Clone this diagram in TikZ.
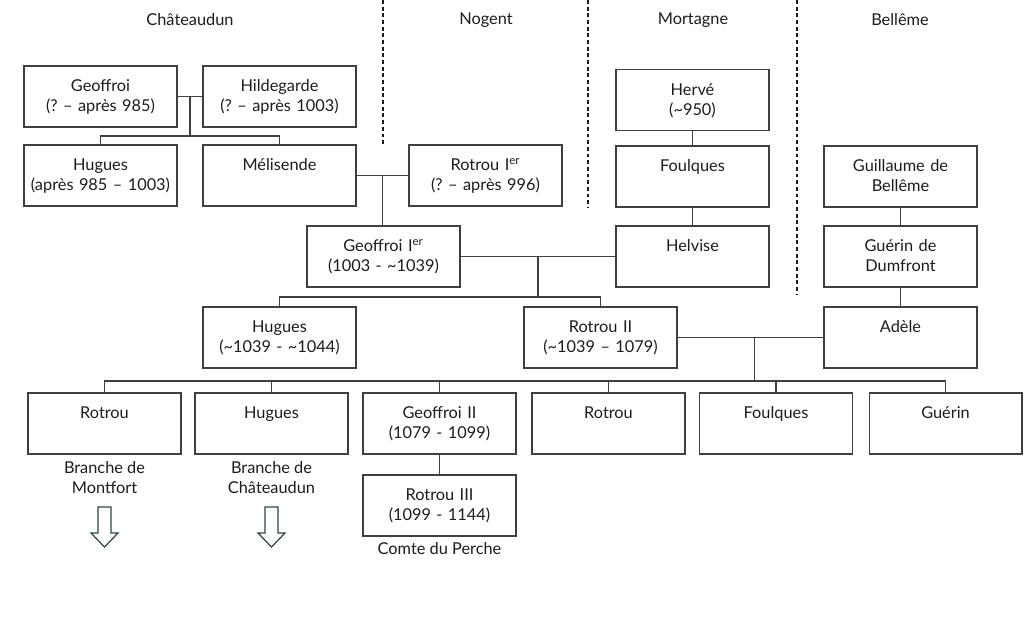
\documentclass[tikz,border=0pt]{standalone}
\usepackage{fontspec}
\setmainfont{Lato}
\frenchspacing
\definecolor{linegray}{HTML}{3f3f3f}
\definecolor{textdark}{HTML}{1c1c1c}
\definecolor{arrowslate}{HTML}{2b4544}
\usetikzlibrary{calc}

\begin{document}
\begin{tikzpicture}[x=0.02cm, y=-0.02cm,
				person/.style={draw=linegray, line width=0.6pt, minimum width=3.06cm, minimum height=1.22cm, inner sep=0pt, text width=2.95cm, align=center, text height=0.52cm, text depth=0.70cm, text=textdark, font=\fontsize{9.3}{11.34}\selectfont},
				label/.style={align=center, inner sep=0pt, text=textdark, font=\fontsize{9.3}{11.34}\selectfont},
				link/.style={draw=linegray, line width=0.6pt},
				border/.style={draw=textdark, line width=0.6pt, dash pattern=on 2.2pt off 1.6pt},
				branch/.style={draw=arrowslate, line width=0.7pt, line join=miter}
			]
			\useasboundingbox (0,0) rectangle (1024,617);

			% Regions
			\node[label] (chateaudun) at (190, 20) {Châteaudun};
			\node[label] (nogent) at (486, 20) {Nogent};
			\node[label] (mortagne) at (693, 20) {Mortagne};
			\node[label] (belleme) at (900, 20) {Bellême};
			\draw[border] (383, 0) -- (383, 146);
			\draw[border] (588, 0) -- (588, 207);
			\draw[border] (797, 0) -- (797, 295);

			% Chateaudun
			\node[person] (geoffroi) at (100.5, 96.5) {Geoffroi\\(? – après 985)};
			\node[person] (hildegarde) at (279.5, 96.5) {Hildegarde\\(? – après 1003)};
			\node[person] (hugues) at (100.5, 175.5) {Hugues\\(après 985 – 1003)};
			\node[person] (melisende) at (279.5, 175.5) {Mélisende};

			% Nogent
			\node[person] (rotrouI) at (485.5, 175.5) {Rotrou I\textsuperscript{er}\\(? – après 996)};

			% Mortagne
			\node[person] (herve) at (692.5, 100) {Hervé\\(\textasciitilde950)};
			\node[person] (foulques) at (692.5, 176.5) {Foulques};
			\node[person] (helvise) at (692.5, 256.5) {Helvise};

			% Belleme
			\node[person] (guillaume) at (900.5, 176.5) {Guillaume de\\Bellême};
			\node[person] (guerin) at (900.5, 256.5) {Guérin de\\Dumfront};
			\node[person] (adele) at (900.5, 337.5) {Adèle};

			% Second generations
			\node[person] (geoffroiI) at (383.5, 256.5) {Geoffroi I\textsuperscript{er}\\(1003 - \textasciitilde1039)};
			\node[person] (huguesII) at (279.5, 337.5) {Hugues\\(\textasciitilde1039 - \textasciitilde1044)};
			\node[person] (rotrouII) at (600.5, 337.5) {Rotrou II\\(\textasciitilde1039 – 1079)};

			% Children of Rotrou II and Adele
			\node[person] (rotrouM) at (104.5, 423.5) {Rotrou};
			\node[person] (huguesC) at (271.5, 423.5) {Hugues};
			\node[person] (geoffroiII) at (439.5, 423.5) {Geoffroi II\\(1079 - 1099)};
			\node[person] (rotrouB) at (608.5, 423.5) {Rotrou};
			\node[person] (foulquesB) at (776, 423.5) {Foulques};
			\node[person] (guerinB) at (945.5, 423.5) {Guérin};
			\node[person] (rotrouIII) at (439.5, 505.5) {Rotrou III\\(1099 - 1144)};

			\node[label] (montfort) at (104.5, 478) {Branche de\\Montfort};
			\node[label] (branchec) at (271.5, 478) {Branche de\\Châteaudun};
			\node[label] (perche) at (439.5, 549) {Comte du Perche};

			% Hollow arrows
			\coordinate (arrowm) at (104.5, 507);
			\coordinate (arrowc) at (271.5, 507);
			\foreach \top in {arrowm, arrowc}
				\draw[branch] (\top) ++(-6.5, 0) -- ++(0, 26) -- ++(-7, 0) -- ++(13.5, 14) -- ++(13.5, -14) -- ++(-7, 0) -- ++(0, -26) -- cycle;

			% Couples
			\coordinate (c1) at ($(geoffroi.east)!0.5!(hildegarde.west)$);
			\coordinate (c2) at ($(melisende.east)!0.5!(rotrouI.west)$);
			\coordinate (c3) at ($(geoffroiI.east)!0.5!(helvise.west)$);
			\coordinate (c4) at ($(rotrouII.east)!0.53!(adele.west)$);
			\coordinate (b1) at (c1 |- 0, 136);
			\coordinate (b3) at (c3 |- 0, 297);
			\coordinate (b4) at (c4 |- 0, 381);

			\draw[link] (geoffroi) -- (hildegarde);
			\draw[link] (melisende) -- (rotrouI);
			\draw[link] (geoffroiI) -- (helvise);
			\draw[link] (rotrouII) -- (adele);

			\draw[link] (c1) -- (b1);
			\draw[link] (hugues.north) |- (b1);
			\draw[link] (melisende.north) |- (b1);
			\draw[link] (c2) -- (c2 |- geoffroiI.north);
			\draw[link] (c3) -- (b3);
			\draw[link] (huguesII.north) |- (b3);
			\draw[link] (rotrouII.north) |- (b3);
			\draw[link] (c4) -- (b4);
			\foreach \child in {rotrouM, huguesC, geoffroiII, rotrouB, foulquesB, guerinB}
				\draw[link] (\child.north) |- (b4);

			\draw[link] (herve) -- (foulques);
			\draw[link] (foulques) -- (helvise);
			\draw[link] (guillaume) -- (guerin);
			\draw[link] (guerin) -- (adele);
			\draw[link] (geoffroiII) -- (rotrouIII);
		\end{tikzpicture}
\end{document}
